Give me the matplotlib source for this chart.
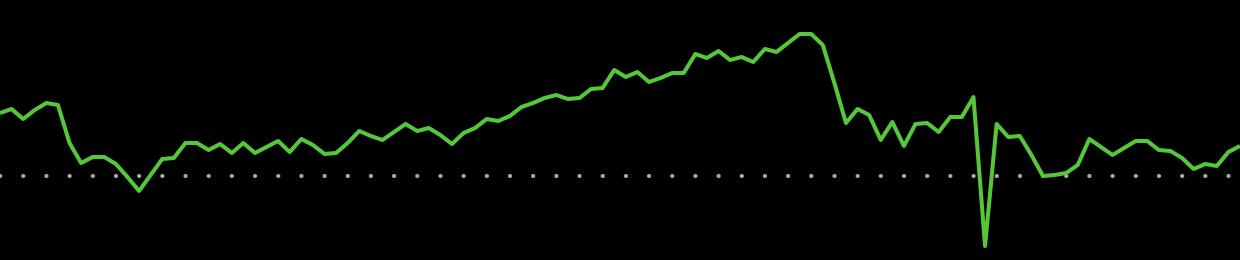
import numpy as np
import matplotlib
matplotlib.use("Agg")
import matplotlib.pyplot as plt

# -----------------------------
# Series (baseline = 0)
# -----------------------------
values = [
    63, 67, 57, 66, 73, 71, 33, 13, 19, 19,
    12, -1, -15, 1, 17, 18, 33, 33, 26, 32,
    23, 33, 23, 29, 35, 24, 37, 31, 22, 23,
    33, 45, 40, 36, 44, 52, 45, 48, 41, 32,
    43, 48, 57, 55, 60, 69, 73, 78, 81, 77,
    78, 87, 88, 106, 99, 104, 94, 98, 103, 103,
    122, 118, 125, 116, 119, 114, 127, 124, 133, 142,
    142, 131, 93, 53, 67, 61, 36, 54, 30, 52,
    53, 44, 59, 59, 79, -70, 52, 39, 40, 21,
    0, 1, 3, 11, 37, 29, 21, 28, 35, 35,
    26, 25, 18, 7, 12, 10, 24, 30,
]
baseline = 0

x = np.arange(len(values))

# -----------------------------
# Plot
# -----------------------------
fig = plt.figure(figsize=(12.4, 2.6), dpi=100, facecolor="black")
ax = fig.add_axes([0, 0, 1, 1])
ax.set_facecolor("black")

# dotted reference line, one dot every two samples
lw_dot = 3.0
dot_gap_pt = 2 * (1240 / (len(values) - 1)) * 72 / 100
ax.axhline(baseline, color="#a8a8a8", linewidth=lw_dot,
           linestyle=(0, (0.05, dot_gap_pt / lw_dot - 0.05)),
           dash_capstyle="round")

ax.plot(x, values, color="#55c83a", linewidth=2.9,
        solid_joinstyle="round", solid_capstyle="butt")

ax.set_xlim(0, len(values) - 1)
ax.set_ylim(-84, 176)
ax.axis("off")

fig.savefig("out.png", dpi=100, facecolor="black")
